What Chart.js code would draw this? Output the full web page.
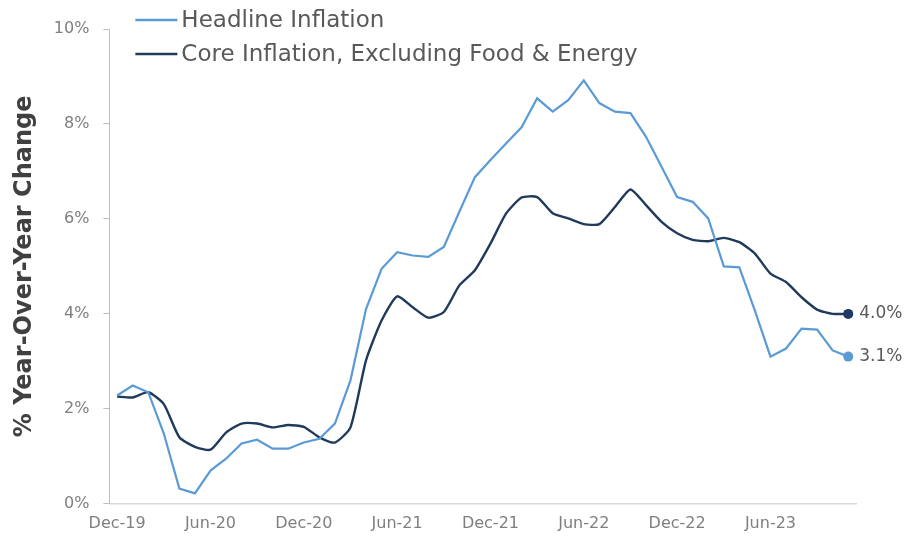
<!DOCTYPE html>
<html lang="en">
<head>
<meta charset="UTF-8">
<title>Headline vs Core Inflation</title>
<style>
    body { margin: 0; background: #fff; }
    #wrap { width: 908px; height: 544px; }
</style>
<script src="https://cdn.jsdelivr.net/npm/chart.js"></script>
</head>
<body>
<div id="wrap"><canvas id="inflationChart" width="908" height="544"></canvas></div>
<script>
// monthly, Dec-19 .. Nov-23
const months = [
    'Dec-19',
    'Jan-20', 'Feb-20', 'Mar-20', 'Apr-20', 'May-20', 'Jun-20', 'Jul-20', 'Aug-20', 'Sep-20', 'Oct-20', 'Nov-20', 'Dec-20',
    'Jan-21', 'Feb-21', 'Mar-21', 'Apr-21', 'May-21', 'Jun-21', 'Jul-21', 'Aug-21', 'Sep-21', 'Oct-21', 'Nov-21', 'Dec-21',
    'Jan-22', 'Feb-22', 'Mar-22', 'Apr-22', 'May-22', 'Jun-22', 'Jul-22', 'Aug-22', 'Sep-22', 'Oct-22', 'Nov-22', 'Dec-22',
    'Jan-23', 'Feb-23', 'Mar-23', 'Apr-23', 'May-23', 'Jun-23', 'Jul-23', 'Aug-23', 'Sep-23', 'Oct-23', 'Nov-23'
];

const headline = [
    2.28,
    2.49, 2.35, 1.48, 0.32, 0.22, 0.70, 0.95, 1.27, 1.35, 1.16, 1.16, 1.29,
    1.37, 1.69, 2.60, 4.10, 4.95, 5.30, 5.23, 5.20, 5.41, 6.15, 6.88, 7.24,
    7.59, 7.93, 8.54, 8.26, 8.50, 8.92, 8.44, 8.26, 8.23, 7.73, 7.10, 6.46,
    6.36, 6.01, 5.00, 4.98, 4.07, 3.10, 3.27, 3.69, 3.67, 3.23, 3.10
];

const core = [
    2.26,
    2.24, 2.35, 2.10, 1.40, 1.20, 1.14, 1.50, 1.69, 1.69, 1.61, 1.66, 1.62,
    1.40, 1.29, 1.61, 3.02, 3.86, 4.37, 4.14, 3.92, 4.04, 4.60, 4.92, 5.48,
    6.11, 6.45, 6.46, 6.12, 6.01, 5.89, 5.89, 6.25, 6.62, 6.29, 5.94, 5.70,
    5.56, 5.53, 5.60, 5.51, 5.27, 4.85, 4.67, 4.35, 4.09, 4.00, 4.00
];

const seriesNames = ['Headline Inflation', 'Core Inflation, Excluding Food & Energy'];
const yTicks = [0, 2, 4, 6, 8, 10];

const headlineColor = '#5b9bd5';
const coreColor = '#1f3a5a';
const FONT = "'DejaVu Sans', Verdana, sans-serif";

// legend sits inside the plot, top left
const legendInPlot = {
    id: 'legendInPlot',
    afterDraw(chart) {
        const ctx = chart.ctx;
        const x0 = chart.chartArea.left + 26;
        ctx.save();
        ctx.font = '23px ' + FONT;
        ctx.textBaseline = 'middle';
        chart.data.datasets.forEach((ds, i) => {
            const y = chart.chartArea.top - 9 + i * 34;
            ctx.strokeStyle = ds.borderColor;
            ctx.lineWidth = 2.5;
            ctx.beginPath();
            ctx.moveTo(x0, y);
            ctx.lineTo(x0 + 42, y);
            ctx.stroke();
            ctx.fillStyle = '#595959';
            ctx.fillText(ds.label, x0 + 46, y + 1);
        });
        ctx.restore();
    }
};

// value label next to the last point of each line
const endLabels = {
    id: 'endLabels',
    afterDatasetsDraw(chart) {
        const ctx = chart.ctx;
        ctx.save();
        ctx.font = '17px ' + FONT;
        ctx.fillStyle = '#595959';
        ctx.textBaseline = 'middle';
        chart.data.datasets.forEach((ds, i) => {
            const meta = chart.getDatasetMeta(i);
            const pt = meta.data[meta.data.length - 1];
            ctx.fillText(ds.data[ds.data.length - 1].toFixed(1) + '%', pt.x + 11, pt.y);
        });
        ctx.restore();
    }
};

const lastIdx = months.length - 1;

new Chart(document.getElementById('inflationChart'), {
    type: 'line',
    data: {
        labels: months,
        datasets: [
            {
                label: seriesNames[0],
                data: headline,
                borderColor: headlineColor,
                backgroundColor: headlineColor,
                borderWidth: 2.2,
                tension: 0,
                pointRadius: c => c.dataIndex === lastIdx ? 5 : 0,
                pointBorderWidth: 0
            },
            {
                label: seriesNames[1],
                data: core,
                borderColor: coreColor,
                backgroundColor: '#1f3864',
                borderWidth: 2.4,
                tension: 0.2,
                pointRadius: c => c.dataIndex === lastIdx ? 5 : 0,
                pointBorderWidth: 0
            }
        ]
    },
    options: {
        responsive: false,
        animation: false,
        layout: { padding: { top: 29, right: 52, bottom: 1, left: 10 } },
        plugins: {
            legend: { display: false },
            tooltip: { enabled: false }
        },
        scales: {
            x: {
                offset: true,
                grid: { display: false, drawTicks: false },
                border: { color: '#d9d9d9', width: 1.5 },
                ticks: {
                    autoSkip: false,
                    maxRotation: 0,
                    padding: 10,
                    color: '#7f7f7f',
                    font: { family: FONT, size: 16 },
                    callback: (v, i) => i % 6 === 0 ? months[i] : ''
                }
            },
            y: {
                min: 0,
                max: 10,
                afterBuildTicks: s => { s.ticks = yTicks.map(v => ({ value: v })); },
                grid: { drawOnChartArea: false, tickLength: 6, color: '#bfbfbf' },
                border: { color: '#bfbfbf' },
                ticks: {
                    padding: 14,
                    color: '#7f7f7f',
                    font: { family: FONT, size: 16 },
                    callback: v => v + '%'
                },
                title: {
                    display: true,
                    text: '% Year-Over-Year Change',
                    color: '#404040',
                    font: { family: FONT, size: 24, weight: 'bold' },
                    padding: { top: 0, bottom: 1 }
                }
            }
        }
    },
    plugins: [legendInPlot, endLabels]
});
</script>
</body>
</html>
